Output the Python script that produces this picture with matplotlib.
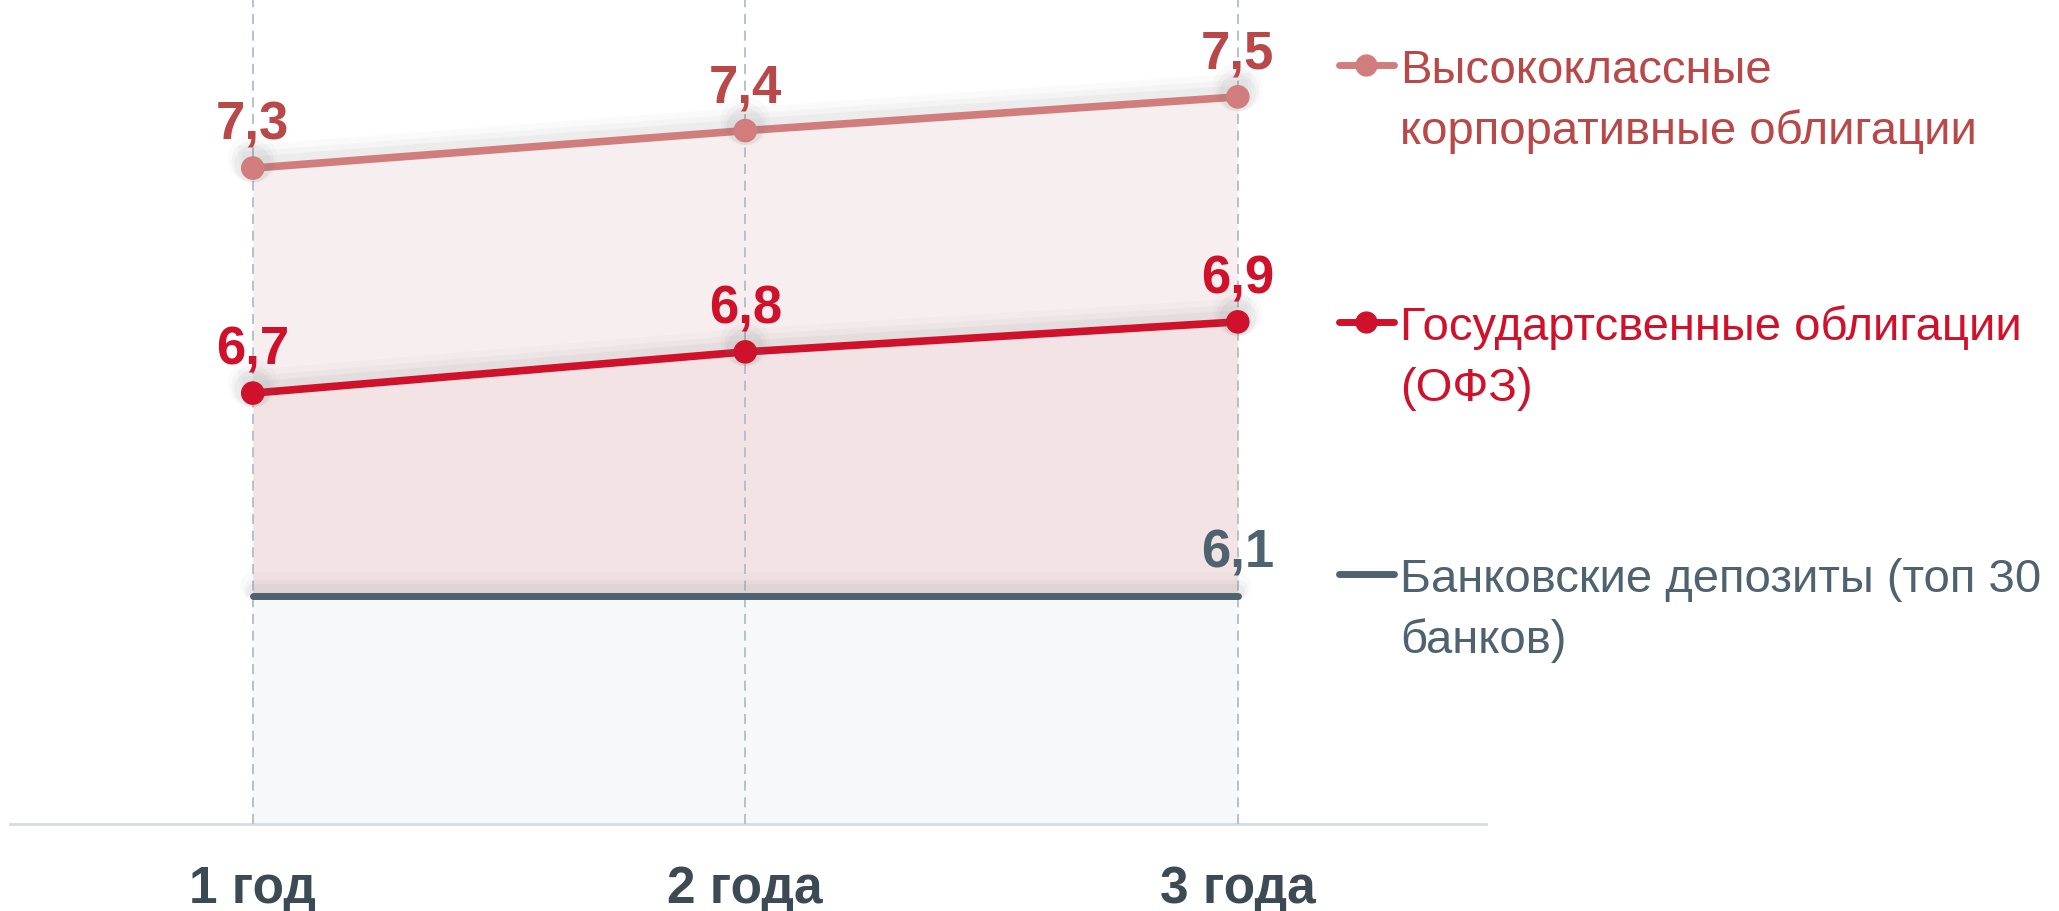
import matplotlib

matplotlib.use("Agg")
import matplotlib.pyplot as plt
import matplotlib.patheffects as pe
from matplotlib.lines import Line2D

# данные графика
periods = ["1 год", "2 года", "3 года"]
corp_values = [7.30, 7.40, 7.49]
corp_labels = ["7,3", "7,4", "7,5"]
gov_values = [6.70, 6.81, 6.89]
gov_labels = ["6,7", "6,8", "6,9"]
deposit_values = [6.16, 6.16, 6.16]
deposit_labels = ["", "", "6,1"]
legend_corp = ["Высококлассные", "корпоративные облигации"]
legend_gov = ["Государтсвенные облигации", "(ОФЗ)"]
legend_deposit = ["Банковские депозиты (топ 30", "банков)"]

W, H = 2059, 912
CORP_LINE = "#d17d7d"
CORP_TEXT = "#b94848"
GOV = "#d0112b"
DEPOSIT = "#4f6270"
TICK_TEXT = "#3c4a54"

plt.rcParams["font.family"] = ["Liberation Sans", "DejaVu Sans"]


def fig_xy(x, y):
    """Пиксели картинки -> координаты фигуры."""
    return x / W, 1 - y / H


def shadow(lw):
    # мягкая тень над линией, как в исходной картинке
    effects = []
    for off, extra, alpha in [(7, 14, 0.03), (5, 9, 0.045), (3, 5, 0.06)]:
        effects.append(
            pe.SimpleLineShadow(offset=(0, off), shadow_color="#707070",
                                alpha=alpha, rho=1.0, linewidth=lw + extra)
        )
    effects.append(pe.Normal())
    return effects


fig = plt.figure(figsize=(W / 100, H / 100), dpi=100)
ax = fig.add_axes([10 / W, (H - 825) / H, (1486 - 10) / W, 825 / H])

x = list(range(len(periods)))
ymin, ymax = 5.551, 5.551 + 825 / 375

ax.fill_between(x, gov_values, corp_values, color="#f7eeef", lw=0, zorder=1)
ax.fill_between(x, deposit_values, gov_values, color="#f3e3e4", lw=0, zorder=1)
ax.fill_between(x, ymin, deposit_values, color="#f6f8fa", lw=0, zorder=1)

ax.plot(x, deposit_values, color=DEPOSIT, lw=5, solid_capstyle="round",
        zorder=3, path_effects=shadow(5))
ax.plot(x, gov_values, color=GOV, lw=5.5, marker="o", markersize=16,
        zorder=4, path_effects=shadow(5.5))
ax.plot(x, corp_values, color=CORP_LINE, lw=5.5, marker="o", markersize=16,
        zorder=4, path_effects=shadow(5.5))

for values, labels, color in [
    (corp_values, corp_labels, CORP_TEXT),
    (gov_values, gov_labels, GOV),
    (deposit_values, deposit_labels, DEPOSIT),
]:
    for xi, v, text in zip(x, values, labels):
        if not text:
            continue
        ax.annotate(text, (xi, v), xytext=(0, 21), textcoords="offset points",
                    ha="center", va="baseline", fontsize=38, fontweight="bold",
                    color=color, zorder=6)

ax.set_xlim(-0.493, 2.504)
ax.set_ylim(ymin, ymax)
ax.set_xticks(x)
ax.set_xticklabels(periods, fontsize=37, fontweight="bold", color=TICK_TEXT)
ax.tick_params(axis="x", length=0, pad=29)
ax.set_yticks([])
ax.grid(axis="x", color="#a9b9c5", lw=1.2, linestyle=(0, (6, 4)), zorder=2)
ax.set_axisbelow(False)
for side in ["top", "left", "right"]:
    ax.spines[side].set_visible(False)
ax.spines["bottom"].set_color("#d6dce2")
ax.spines["bottom"].set_linewidth(2)

# легенда справа, нарисованная вручную
legend_rows = [
    (legend_corp, CORP_LINE, CORP_TEXT, "o", 66),
    (legend_gov, GOV, GOV, "o", 323),
    (legend_deposit, DEPOSIT, DEPOSIT, None, 575),
]
for lines, line_color, text_color, marker, y in legend_rows:
    x0, y0 = fig_xy(1339, y)
    x1, _ = fig_xy(1394, y)
    xm, _ = fig_xy(1366, y)
    fig.add_artist(Line2D([x0, x1], [y0, y0], color=line_color, lw=5,
                          solid_capstyle="round", transform=fig.transFigure))
    if marker:
        fig.add_artist(Line2D([xm], [y0], color=line_color, marker=marker,
                              markersize=15, transform=fig.transFigure))
    for i, line in enumerate(lines):
        tx, ty = fig_xy(1400, y + i * 61)
        fig.text(tx, ty, line, fontsize=34, color=text_color,
                 ha="left", va="center_baseline")

fig.savefig("out.png", dpi=100)
